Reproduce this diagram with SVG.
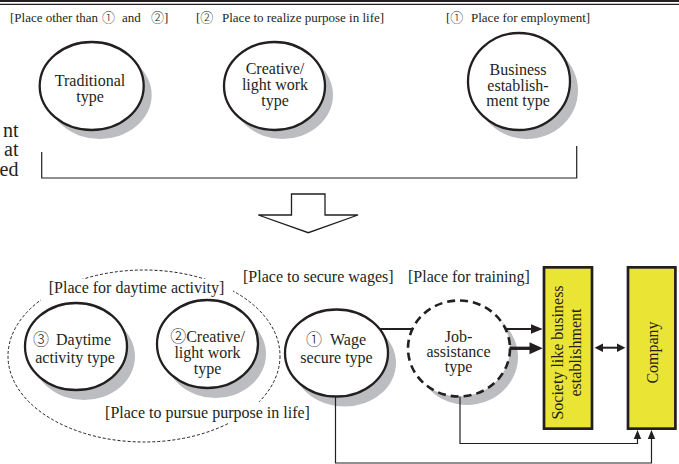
<svg xmlns="http://www.w3.org/2000/svg" width="679" height="464" viewBox="0 0 679 464" font-family="Liberation Serif, Times New Roman, DejaVu Serif, serif">
<style>
text{font-family:"Liberation Serif","Times New Roman","DejaVu Serif",serif;fill:#231F20}
.cj{font-family:"Noto Sans CJK JP","Noto Sans CJK SC",sans-serif;font-weight:300}
.t13{font-size:13px}
.t16{font-size:16px}
.t20{font-size:20px}
.m{text-anchor:middle}
.shadow{fill:#BCBDC0}
.circ{fill:#fff;stroke:#231F20;stroke-width:2.3}
.dcirc{fill:#fff;stroke:#231F20;stroke-width:2.6;stroke-dasharray:8 5}
.box{fill:#EAE434;stroke:#231F20;stroke-width:2.7}
.ln{fill:none;stroke:#231F20;stroke-width:1.2}
.ah{fill:#231F20}
</style>
<g id="rule">
<line x1="0" y1="1" x2="679" y2="1" stroke="#231F20" stroke-width="2"/>
<line x1="0" y1="4.3" x2="679" y2="4.3" stroke="#231F20" stroke-width="1.2"/>
</g>
<g id="top-labels">
<text class="t13" x="10" y="22">[Place other than<tspan class="cj" x="102">①</tspan><tspan x="122">and</tspan><tspan class="cj" x="151">②</tspan><tspan>]</tspan></text>
<text class="t13" x="196" y="22">[<tspan class="cj">②</tspan><tspan x="222">Place to realize purpose in life]</tspan></text>
<text class="t13" x="446" y="22">[<tspan class="cj">①</tspan><tspan x="471">Place for employment]</tspan></text>
</g>
<g id="side-text">
<text class="t20" x="18.5" y="136.5" text-anchor="end">nt</text>
<text class="t20" x="18.5" y="156" text-anchor="end">at</text>
<text class="t20" x="18.5" y="175.5" text-anchor="end">ed</text>
</g>
<g id="n-traditional">
<ellipse class="shadow" cx="99.7" cy="95" rx="52" ry="44"/>
<ellipse class="circ" cx="91.7" cy="86" rx="52" ry="44"/>
<text class="t16 m" x="90" y="86">Traditional</text>
<text class="t16 m" x="90" y="101.5">type</text>
</g>
<g id="n-creative-top">
<ellipse class="shadow" cx="282.5" cy="95" rx="50.5" ry="44"/>
<ellipse class="circ" cx="274.5" cy="86" rx="50.5" ry="44"/>
<text class="t16 m" x="275" y="74">Creative/</text>
<text class="t16 m" x="275" y="90">light work</text>
<text class="t16 m" x="275" y="106">type</text>
</g>
<g id="n-business">
<ellipse class="shadow" cx="527" cy="90.5" rx="51" ry="48.5"/>
<ellipse class="circ" cx="519" cy="81.5" rx="51" ry="48.5"/>
<text class="t16 m" x="518" y="75">Business</text>
<text class="t16 m" x="518" y="90.5">establish-</text>
<text class="t16 m" x="518" y="106">ment type</text>
</g>
<g id="bracket">
<polyline class="ln" points="41.7,152 41.7,178 576.7,178 576.7,146"/>
</g>
<g id="down-arrow">
<polygon points="291.5,194 325,194 325,215 358,215 308.3,232.7 258.3,215 291.5,215" fill="#fff" stroke="#231F20" stroke-width="1.3"/>
</g>
<g id="group-daytime">
<ellipse cx="144" cy="356" rx="136" ry="86" fill="none" stroke="#231F20" stroke-width="1" stroke-dasharray="3 2"/>
<rect x="41" y="279" width="192" height="21" fill="#fff"/>
<text class="t16 m" x="136.5" y="292.5">[Place for daytime activity]</text>
<rect x="103" y="402" width="209" height="21" fill="#fff"/>
<text class="t16 m" x="207.5" y="418.3">[Place to pursue purpose in life]</text>
</g>
<g id="n-daytime">
<ellipse class="shadow" cx="84" cy="356.5" rx="51" ry="43.5"/>
<ellipse class="circ" cx="76" cy="346.5" rx="51" ry="43.5"/>
<text class="t16" x="33" y="345"><tspan class="cj">③</tspan><tspan x="56">Daytime</tspan></text>
<text class="t16 m" x="75" y="363">activity type</text>
</g>
<g id="n-creative">
<ellipse class="shadow" cx="215.5" cy="354" rx="50.5" ry="44"/>
<ellipse class="circ" cx="207.5" cy="344" rx="50.5" ry="44"/>
<text class="t16 m" x="207.5" y="342"><tspan class="cj">②</tspan>Creative/</text>
<text class="t16 m" x="207.5" y="358">light work</text>
<text class="t16 m" x="207.5" y="374">type</text>
</g>
<g id="n-wage">
<ellipse class="shadow" cx="344.5" cy="363" rx="51.5" ry="43.5"/>
<ellipse class="circ" cx="336.5" cy="353" rx="51.5" ry="43.5"/>
<text class="t16" x="306" y="345"><tspan class="cj">①</tspan><tspan x="330">Wage</tspan></text>
<text class="t16 m" x="336.5" y="363">secure type</text>
</g>
<g id="n-job">
<ellipse class="shadow" cx="467" cy="357" rx="51" ry="48"/>
<ellipse class="dcirc" cx="459" cy="348.5" rx="51" ry="48"/>
<text class="t16 m" x="458.5" y="342">Job-</text>
<text class="t16 m" x="458.5" y="357">assistance</text>
<text class="t16 m" x="458.5" y="372">type</text>
</g>
<g id="mid-labels">
<text class="t16" x="243" y="282">[Place to secure wages]</text>
<text class="t16" x="408" y="282">[Place for training]</text>
</g>
<g id="n-society">
<rect class="box" x="544" y="267.35" width="48" height="161.3"/>
<text class="t16 m" transform="translate(563,352.5) rotate(-90)">Society like business</text>
<text class="t16 m" transform="translate(580.5,352.5) rotate(-90)">establishment</text>
</g>
<g id="n-company">
<rect class="box" x="628" y="267.35" width="47.4" height="161.3"/>
<text class="t16 m" transform="translate(657.5,352.5) rotate(-90)">Company</text>
</g>
<g id="connectors">
<line x1="380" y1="329" x2="413" y2="329" stroke="#231F20" stroke-width="2"/>
<line x1="505.6" y1="329" x2="532" y2="329" stroke="#231F20" stroke-width="2"/>
<polygon class="ah" points="542.7,329 531,324.3 531,333.7"/>
<line x1="509.5" y1="348.3" x2="531" y2="348.3" stroke="#231F20" stroke-width="3.3"/>
<polygon class="ah" points="542.7,348.3 529.5,342.3 529.5,354.3"/>
<line x1="600" y1="347.7" x2="620" y2="347.7" stroke="#231F20" stroke-width="2"/>
<polygon class="ah" points="594.6,347.7 603,343.5 603,351.9"/>
<polygon class="ah" points="625.4,347.7 617,343.5 617,351.9"/>
<polyline class="ln" points="460,396.5 460,443.5 637.5,443.5 637.5,438"/>
<polygon class="ah" points="637.5,430 633.8,439 641.2,439"/>
<polyline class="ln" points="335.5,396.5 335.5,463 651.5,463 651.5,438"/>
<polygon class="ah" points="651.5,430 647.8,439 655.2,439"/>
</g>
</svg>
